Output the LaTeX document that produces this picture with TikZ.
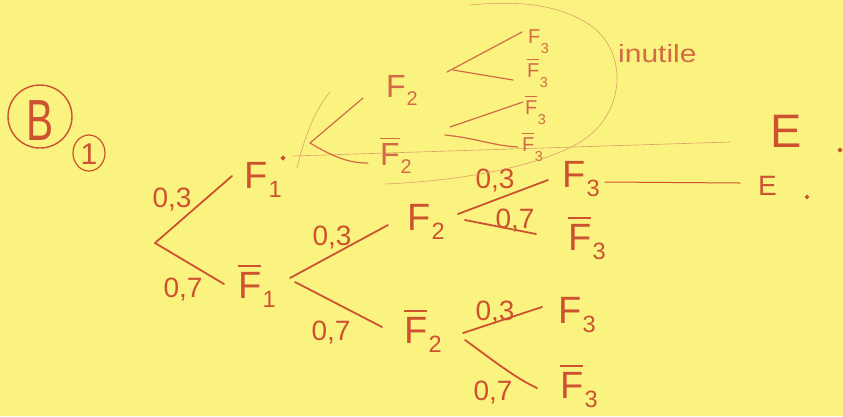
\documentclass[tikz,border=0pt]{standalone}
\usepackage{fontspec}
\setmainfont{Liberation Sans}
\definecolor{paper}{RGB}{250,243,128}
\definecolor{pen}{RGB}{205,82,48}
\definecolor{pentwo}{RGB}{212,105,70}
\definecolor{faintc}{RGB}{222,160,105}
\newcommand{\barF}{\vbox{\hrule height 1.6pt\kern 5pt\hbox{F}}}
\newcommand{\barFx}[2]{\vbox{\hrule height #1\kern #2\hbox{F}}}
\newcommand{\subx}[1]{\kern0.03em\raisebox{-0.25em}{\scalebox{0.62}{#1}}}
\newcommand{\subd}[1]{\kern0.02em\raisebox{-0.5em}{\scalebox{0.72}{#1}}}
\begin{document}
\begin{tikzpicture}[x=1pt,y=-1pt,
  pen/.style={draw=pen, line width=1.8pt, line cap=round},
  penthin/.style={draw=pentwo, line width=1.2pt, line cap=round},
  faint/.style={draw=faintc, line width=0.6pt},
  lab/.style={text=pen, font=\fontsize{38}{40}\selectfont, inner sep=0pt, anchor=base west},
  labs/.style={text=pentwo, font=\fontsize{32}{34}\selectfont, inner sep=0pt, anchor=base west},
  labt/.style={text=pentwo, font=\fontsize{20}{22}\selectfont, inner sep=0pt, anchor=base west},
  prob/.style={text=pen, font=\fontsize{28}{30}\selectfont, inner sep=0pt, anchor=base},
]
\fill[paper] (0,0) rectangle (843,416);
\useasboundingbox (0,0) rectangle (843,416);

% header marks
\coordinate (Bc) at (40,116.5);
\node[text=pen, font=\fontsize{58}{60}\selectfont, inner sep=0pt, anchor=base] (B) at (40,140) {\scalebox{0.7}[1]{B}};
\draw[pen, line width=1.4pt] (Bc) ellipse [x radius=32, y radius=31.5];
\coordinate (c1) at (89,153);
\node[text=pen, font=\fontsize{30}{32}\selectfont, inner sep=0pt, anchor=base] (one) at (89,164) {1};
\draw[pen, line width=1.2pt] (c1) ellipse [x radius=16, y radius=18];

% root level
\coordinate (r0) at (155,243);
\coordinate (eF1) at (232,176);
\coordinate (eF1b) at (224,284);
\node[lab] (F1) at (244,188) {F\subx{1}};
\node[lab] (F1b) at (238,298) {\barF\subx{1}};
\draw[pen] (r0) -- (eF1);
\draw[pen] (r0) -- (eF1b);
\node[prob] (p1) at (172,207) {0,3};
\node[prob] (p2) at (183,297) {0,7};

% from F1bar
\coordinate (j1a) at (290,278);
\coordinate (j1b) at (295,282);
\coordinate (eF2) at (388,225);
\coordinate (eF2b) at (382,327);
\node[lab] (F2) at (407,230) {F\subx{2}};
\node[lab] (F2b) at (404,343) {\barF\subx{2}};
\draw[pen] (j1a) -- (eF2);
\draw[pen] (j1b) -- (eF2b);
\node[prob] (p3) at (332,245) {0,3};
\node[prob] (p4) at (331,340) {0,7};

% from F2
\coordinate (j2a) at (458,214);
\coordinate (j2b) at (465,220);
\coordinate (eF3a) at (548,180);
\coordinate (eF3ab) at (536,234);
\node[lab] (F3a) at (562,187) {F\subx{3}};
\node[lab] (F3ab) at (568,250) {\barF\subx{3}};
\draw[pen] (j2a) -- (eF3a);
\draw[pen] (j2b) -- (eF3ab);
\node[prob] (p5) at (495,188) {0,3};
\node[prob] (p6) at (515,228) {0,7};

% from F2bar
\coordinate (j3a) at (463,333);
\coordinate (j3b) at (465,340);
\coordinate (eF3b) at (542,307);
\coordinate (eF3bb) at (537,388);
\node[lab] (F3b) at (558,323) {F\subx{3}};
\node[lab] (F3bb) at (560,398) {\barF\subx{3}};
\draw[pen] (j3a) -- (eF3b);
\draw[pen] (j3b) .. controls (490,358) and (515,378) .. (eF3bb);
\node[prob] (p7) at (495,320) {0,3};
\node[prob] (p8) at (493,400) {0,7};

% E lines
\coordinate (eE1) at (605,182);
\coordinate (eE2) at (740,183);
\draw[pen, line width=1pt] (eE1) -- (eE2);
\node[text=pen, font=\fontsize{28}{30}\selectfont, inner sep=0pt, anchor=base west] (E2) at (758,195) {E};
\fill[pen] (807,197) circle (1.2);
\node[text=pen, font=\fontsize{47}{50}\selectfont, inner sep=0pt, anchor=base west] (E1) at (770,147) {E};
\fill[pen] (840,150) circle (1.3);

% crossed-out upper subtree
\fill[pen] (283,158) circle (1.3);
\coordinate (hA) at (293,156);
\coordinate (hB) at (730,142);
\draw[faint] (hA) -- (hB);
\coordinate (jU) at (310,143);
\coordinate (eU2) at (363,98);
\coordinate (eU2b) at (368,163);
\node[labs] (U2) at (386,97) {F\subx{2}};
\node[labs] (U2b) at (380,165) {\barFx{1.2pt}{4pt}\subx{2}};
\draw[penthin] (jU) -- (eU2);
\draw[penthin] (jU) .. controls (335,158) and (350,163) .. (eU2b);

\coordinate (jUa) at (447,72);
\coordinate (jUb) at (453,70);
\coordinate (eUa) at (522,32);
\coordinate (eUb) at (513,80);
\coordinate (jUc) at (450,127);
\coordinate (jUd) at (445,135);
\coordinate (eUc) at (523,102);
\coordinate (eUd) at (518,147);
\node[labt] (U3a) at (528,43) {F\subd{3}};
\node[labt] (U3b) at (527,77) {\barFx{1pt}{3pt}\subd{3}};
\node[labt] (U3c) at (525,114) {\barFx{1pt}{3pt}\subd{3}};
\node[labt] (U3d) at (522,151) {\barFx{1pt}{3pt}\subd{3}};
\draw[penthin] (jUa) -- (eUa);
\draw[penthin] (jUb) -- (eUb);
\draw[penthin] (jUc) -- (eUc);
\draw[penthin] (jUd) .. controls (475,138) and (495,146) .. (eUd);

% enclosing loop
\draw[faint] (297,168) .. controls (305,135) and (315,110) .. (330,92);
\draw[faint] (470,5) .. controls (520,0) and (560,5) .. (590,25)
  .. controls (626,50) and (626,105) .. (590,135)
  .. controls (560,160) and (480,180) .. (385,184);
\node[text=pentwo, font=\fontsize{25}{27}\selectfont, inner sep=0pt, anchor=base west] (inu) at (618,62) {\scalebox{1.2}[1]{inutile}};
\end{tikzpicture}
\end{document}
